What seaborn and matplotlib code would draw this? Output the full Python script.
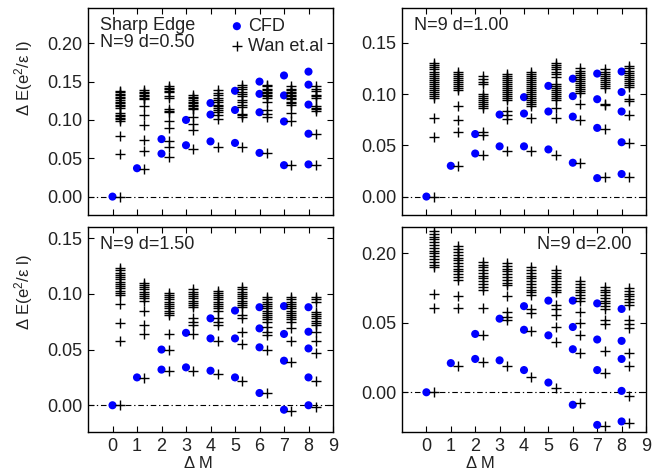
import matplotlib
matplotlib.use("Agg")
import matplotlib.pyplot as plt
import seaborn as sns
import pandas as pd

# Delta M values (columns)
delta_m = [0, 1, 2, 3, 4, 5, 6, 7, 8]

# ---- N=9 d=0.50 (sharp edge) ----
cfd_d050 = [
    [0.0],
    [0.037],
    [0.056, 0.075],
    [0.067, 0.100],
    [0.072, 0.107, 0.122],
    [0.070, 0.113, 0.138],
    [0.057, 0.110, 0.134, 0.150],
    [0.041, 0.098, 0.132, 0.158],
    [0.042, 0.082, 0.120, 0.146, 0.163],
]
wan_d050 = [
    [0.0, 0.055, 0.079, 0.099, 0.101, 0.103, 0.105, 0.107, 0.109, 0.115, 0.118,
     0.120, 0.122, 0.124, 0.126, 0.128, 0.130, 0.132, 0.134, 0.136, 0.138],
    [0.036, 0.060, 0.074, 0.093, 0.107, 0.118, 0.127, 0.129, 0.131, 0.133, 0.135, 0.137, 0.139],
    [0.052, 0.065, 0.073, 0.089, 0.098, 0.110, 0.112, 0.114, 0.129, 0.131, 0.136, 0.138,
     0.140, 0.142, 0.144],
    [0.062, 0.087, 0.095, 0.104, 0.114, 0.116, 0.118, 0.120, 0.122, 0.124, 0.126, 0.128,
     0.130, 0.132],
    [0.065, 0.101, 0.106, 0.110, 0.113, 0.116, 0.118, 0.120, 0.123, 0.126, 0.129, 0.132,
     0.135, 0.139],
    [0.065, 0.104, 0.106, 0.108, 0.117, 0.120, 0.123, 0.126, 0.131, 0.134, 0.137, 0.140,
     0.143, 0.145],
    [0.057, 0.104, 0.108, 0.113, 0.123, 0.129, 0.131, 0.133, 0.135, 0.137, 0.139, 0.141,
     0.144, 0.146],
    [0.041, 0.098, 0.109, 0.120, 0.122, 0.124, 0.127, 0.129, 0.131, 0.133, 0.135, 0.137,
     0.139, 0.141, 0.144],
    [0.041, 0.082, 0.112, 0.114, 0.116, 0.118, 0.129, 0.131, 0.133, 0.138, 0.141, 0.144],
]

# ---- N=9 d=1.00 ----
cfd_d100 = [
    [0.0],
    [0.030],
    [0.042, 0.061],
    [0.049, 0.080],
    [0.049, 0.081, 0.097],
    [0.046, 0.083, 0.108],
    [0.033, 0.078, 0.098, 0.115],
    [0.018, 0.067, 0.095, 0.120],
    [0.022, 0.053, 0.083, 0.102, 0.122],
]
wan_d100 = [
    [0.0, 0.058, 0.077, 0.096, 0.098, 0.100, 0.102, 0.104, 0.106, 0.108, 0.110, 0.112,
     0.114, 0.116, 0.118, 0.120, 0.122, 0.124, 0.126, 0.128, 0.130],
    [0.030, 0.063, 0.075, 0.088, 0.104, 0.106, 0.108, 0.110, 0.112, 0.114, 0.116, 0.118,
     0.120, 0.122],
    [0.041, 0.060, 0.063, 0.086, 0.088, 0.090, 0.092, 0.094, 0.096, 0.098, 0.100, 0.110,
     0.112, 0.115, 0.118],
    [0.044, 0.076, 0.080, 0.083, 0.094, 0.096, 0.098, 0.100, 0.102, 0.104, 0.106, 0.108,
     0.110, 0.112, 0.114, 0.116, 0.118, 0.120],
    [0.044, 0.077, 0.088, 0.090, 0.092, 0.094, 0.096, 0.098, 0.100, 0.102, 0.104, 0.106,
     0.108, 0.110, 0.112, 0.114, 0.116, 0.118, 0.120, 0.122],
    [0.041, 0.077, 0.086, 0.094, 0.096, 0.098, 0.100, 0.102, 0.104, 0.106, 0.108, 0.110,
     0.117, 0.120, 0.122, 0.124, 0.126, 0.128, 0.130],
    [0.033, 0.075, 0.090, 0.101, 0.103, 0.105, 0.107, 0.109, 0.111, 0.113, 0.115, 0.117,
     0.119, 0.121, 0.123, 0.125],
    [0.019, 0.066, 0.089, 0.090, 0.106, 0.108, 0.110, 0.112, 0.114, 0.116, 0.118, 0.120,
     0.122, 0.124],
    [0.019, 0.052, 0.080, 0.093, 0.095, 0.107, 0.109, 0.111, 0.113, 0.115, 0.117, 0.119,
     0.121, 0.123, 0.125, 0.127],
]

# ---- N=9 d=1.50 ----
cfd_d150 = [
    [0.0],
    [0.025],
    [0.032, 0.050],
    [0.034, 0.065],
    [0.031, 0.060, 0.078],
    [0.025, 0.060, 0.085],
    [0.011, 0.052, 0.069, 0.088],
    [-0.004, 0.040, 0.064, 0.089],
    [0.000, 0.025, 0.051, 0.066, 0.088],
]
wan_d150 = [
    [0.0, 0.058, 0.074, 0.091, 0.099, 0.101, 0.103, 0.105, 0.107, 0.109, 0.111, 0.113,
     0.115, 0.117, 0.119, 0.121, 0.123],
    [0.0245, 0.064, 0.072, 0.085, 0.094, 0.096, 0.098, 0.100, 0.102, 0.104, 0.106, 0.108,
     0.110],
    [0.031, 0.050, 0.064, 0.081, 0.083, 0.085, 0.087, 0.089, 0.091, 0.093, 0.095, 0.097,
     0.099, 0.101],
    [0.031, 0.064, 0.072, 0.075, 0.078, 0.088, 0.090, 0.092, 0.094, 0.096, 0.098, 0.100,
     0.102, 0.104],
    [0.028, 0.058, 0.072, 0.075, 0.078, 0.085, 0.087, 0.089, 0.091, 0.093, 0.095, 0.097,
     0.099, 0.101, 0.103],
    [0.022, 0.055, 0.066, 0.078, 0.081, 0.088, 0.090, 0.092, 0.094, 0.096, 0.098, 0.100,
     0.102, 0.104, 0.106],
    [0.011, 0.050, 0.063, 0.066, 0.070, 0.075, 0.077, 0.079, 0.081, 0.083, 0.085, 0.087,
     0.089, 0.091, 0.093, 0.095, 0.097],
    [-0.005, 0.039, 0.058, 0.069, 0.075, 0.077, 0.079, 0.081, 0.083, 0.085, 0.087, 0.089,
     0.091, 0.093, 0.095, 0.097],
    [-0.002, 0.022, 0.047, 0.058, 0.066, 0.072, 0.074, 0.076, 0.078, 0.080, 0.082, 0.084,
     0.093, 0.095, 0.097],
]

# ---- N=9 d=2.00 ----
cfd_d200 = [
    [0.0],
    [0.021],
    [0.024, 0.042],
    [0.023, 0.053],
    [0.016, 0.045, 0.062],
    [0.007, 0.041, 0.066],
    [-0.009, 0.031, 0.047, 0.066],
    [-0.0235, 0.016, 0.038, 0.064],
    [-0.021, 0.001, 0.024, 0.037, 0.060],
]
wan_d200 = [
    [0.0, 0.061, 0.071, 0.090, 0.092, 0.094, 0.096, 0.098, 0.100, 0.102, 0.104, 0.106,
     0.108, 0.110, 0.112, 0.114, 0.116],
    [0.019, 0.061, 0.069, 0.081, 0.083, 0.085, 0.087, 0.089, 0.091, 0.093, 0.095, 0.097,
     0.099, 0.101, 0.103, 0.105],
    [0.022, 0.041, 0.061, 0.074, 0.076, 0.078, 0.080, 0.082, 0.084, 0.086, 0.088, 0.090,
     0.092, 0.094],
    [0.019, 0.052, 0.054, 0.058, 0.069, 0.077, 0.079, 0.081, 0.083, 0.085, 0.087, 0.089,
     0.091, 0.093],
    [0.011, 0.044, 0.057, 0.060, 0.070, 0.072, 0.074, 0.076, 0.078, 0.080, 0.082, 0.084,
     0.086, 0.088, 0.090],
    [0.003, 0.036, 0.047, 0.056, 0.060, 0.063, 0.072, 0.074, 0.076, 0.078, 0.080, 0.082,
     0.084, 0.086, 0.088],
    [-0.008, 0.028, 0.041, 0.050, 0.058, 0.066, 0.068, 0.070, 0.072, 0.074, 0.076, 0.078,
     0.080],
    [-0.0245, 0.014, 0.030, 0.049, 0.052, 0.060, 0.062, 0.064, 0.066, 0.068, 0.070, 0.072,
     0.074, 0.076],
    [-0.022, -0.003, 0.019, 0.028, 0.046, 0.049, 0.052, 0.063, 0.065, 0.067, 0.069, 0.071,
     0.073, 0.075],
]

panel_labels = ["N=9 d=0.50", "N=9 d=1.00", "N=9 d=1.50", "N=9 d=2.00"]
panel_ylims = [(-0.024, 0.246), (-0.018, 0.184), (-0.024, 0.160), (-0.0286, 0.119)]
panel_yticks = [[0.0, 0.05, 0.10, 0.15, 0.20], [0.0, 0.05, 0.10, 0.15],
                [0.0, 0.05, 0.10, 0.15], [0.0, 0.05, 0.10]]
panel_yticklabels = [["0.00", "0.05", "0.10", "0.15", "0.20"],
                     ["0.00", "0.05", "0.10", "0.15"],
                     ["0.00", "0.05", "0.10", "0.15"],
                     ["0.00", "0.05", "0.20"]]
xticks = [0, 1, 2, 3, 4, 5, 6, 7, 8, 9]


def to_frame(cfd, wan):
    rows = []
    for m, vals in zip(delta_m, cfd):
        rows += [{"dM": m, "dE": v, "src": "CFD"} for v in vals]
    for m, vals in zip(delta_m, wan):
        rows += [{"dM": m + 0.3, "dE": v, "src": "Wan et.al"} for v in vals]
    return pd.DataFrame(rows)


sns.set_style("ticks")
plt.rcParams["font.family"] = ["Liberation Sans", "DejaVu Sans"]
plt.rcParams["mathtext.default"] = "regular"
plt.rcParams["xtick.direction"] = "in"
plt.rcParams["ytick.direction"] = "in"
plt.rcParams["xtick.top"] = True
plt.rcParams["ytick.right"] = True

fig = plt.figure(figsize=(6.69, 4.72), dpi=100)
W, H = 669.0, 472.0
boxes = [(88, 8, 333, 215), (402, 8, 646, 215), (88, 227, 333, 432), (402, 227, 646, 432)]
datasets = [(cfd_d050, wan_d050), (cfd_d100, wan_d100), (cfd_d150, wan_d150), (cfd_d200, wan_d200)]
text_col = "#222222"

for i, (box, (cfd, wan)) in enumerate(zip(boxes, datasets)):
    l, t, r, b = box
    ax = fig.add_axes([l / W, 1 - b / H, (r - l) / W, (b - t) / H])
    df = to_frame(cfd, wan)
    sns.scatterplot(data=df[df.src == "CFD"], x="dM", y="dE", ax=ax, color="#0000ff",
                    marker="o", s=34, edgecolor="none", label="CFD", zorder=3)
    sns.scatterplot(data=df[df.src == "Wan et.al"], x="dM", y="dE", ax=ax, color="black",
                    marker="+", s=42, linewidth=1.0, label="Wan et.al", zorder=3)
    ax.axhline(0, color="black", lw=0.8, ls=(0, (5, 2.5, 1.2, 2.5)), zorder=1)
    ax.set_xlim(-1, 9)
    ax.set_ylim(*panel_ylims[i])
    ax.set_xticks(xticks)
    ax.set_yticks(panel_yticks[i])
    ax.set_yticklabels(panel_yticklabels[i])
    ax.tick_params(labelsize=13, length=4, width=0.8, colors="black", labelcolor=text_col,
                   pad=4)
    for sp in ax.spines.values():
        sp.set_linewidth(1.0)
        sp.set_color("black")
    if i < 2:
        ax.set_xticklabels([])
        ax.set_xlabel("")
    else:
        ax.set_xlabel("Δ M", fontsize=12, color=text_col)
        ax.xaxis.set_label_coords(0.45 if i == 2 else 0.32, -0.118)
    if i % 2 == 0:
        ax.set_ylabel("Δ E(e$^2$/ε l)", fontsize=12, color=text_col)
        ax.yaxis.set_label_coords(-0.215, 0.66 if i == 0 else 0.68)
    else:
        ax.set_ylabel("")

    if i == 0:
        ax.text(0.05, 0.955, "Sharp Edge\n" + panel_labels[i], transform=ax.transAxes,
                fontsize=13, color=text_col, va="top", ha="left", linespacing=0.95)
        ax.legend(loc="upper right", frameon=False, fontsize=13, handletextpad=0.1,
                  borderaxespad=0.15, labelspacing=0.15, markerscale=1.0,
                  labelcolor=text_col, handlelength=1.0)
    else:
        ax.get_legend().remove()
        if i == 3:
            ax.text(0.94, 0.955, panel_labels[i], transform=ax.transAxes, fontsize=13,
                    color=text_col, va="top", ha="right")
        else:
            ax.text(0.05, 0.955, panel_labels[i], transform=ax.transAxes, fontsize=13,
                    color=text_col, va="top", ha="left")

fig.savefig("out.png", dpi=100)
